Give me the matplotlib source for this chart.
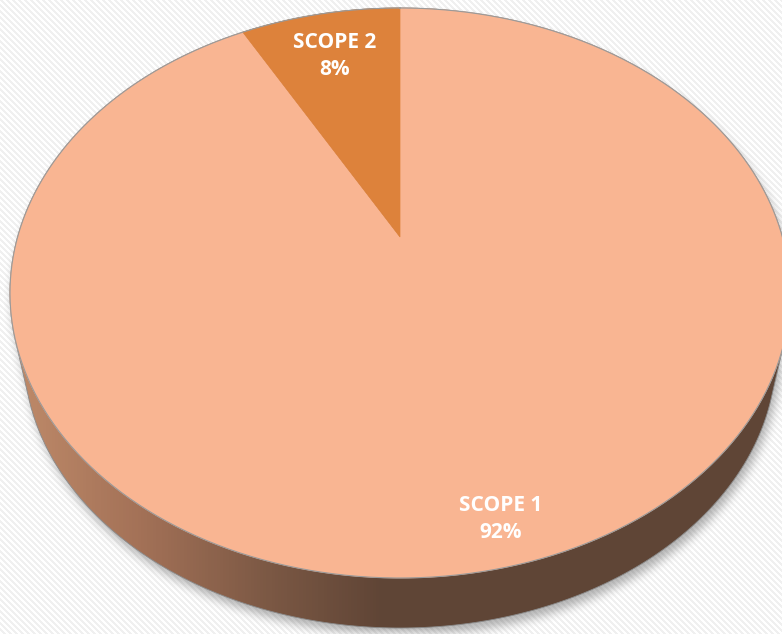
import numpy as np
import matplotlib
matplotlib.use('Agg')
import matplotlib.pyplot as plt
from matplotlib.patches import Polygon
from matplotlib.path import Path
from matplotlib.colors import LinearSegmentedColormap

# ---- data ----
labels = ['SCOPE 1', 'SCOPE 2']
values = [92, 8]
colors = ['#F9B592', '#DD823B']
label_radius = [0.88, 0.79]

W, H = 782, 634
fig = plt.figure(figsize=(7.82, 6.34), dpi=100)
ax = fig.add_axes([0, 0, 1, 1])
ax.set_xlim(0, W)
ax.set_ylim(H, 0)
ax.axis('off')

# ---- background with faint diagonal stripes ----
yy, xx = np.mgrid[0:H, 0:W]
stripe = ((xx - yy) % 6) < 3
bg = np.ones((H, W, 3))
bg[stripe] = 0.945
ax.imshow(bg, extent=(0, W, H, 0), aspect='auto', zorder=0, interpolation='bilinear')

# ---- perspective projection of the pie disc ----
CX, CY = 400, 237
A, B, K = 382.4, 274.0, 0.1965
FRONT_DEPTH = 50.0
SHRINK = 0.965

def proj(theta_deg, r=1.0):
    t = np.radians(theta_deg)
    u = r * np.sin(t)
    v = r * np.cos(t)
    s = 1 + K * v
    return CX + A * u / s, CY - B * v / s

def hull(points):
    pts = sorted(set(map(tuple, np.round(points, 3))))
    def cross(o, a, b):
        return (a[0]-o[0])*(b[1]-o[1]) - (a[1]-o[1])*(b[0]-o[0])
    lower, upper = [], []
    for p in pts:
        while len(lower) >= 2 and cross(lower[-2], lower[-1], p) <= 0:
            lower.pop()
        lower.append(p)
    for p in reversed(pts):
        while len(upper) >= 2 and cross(upper[-2], upper[-1], p) <= 0:
            upper.pop()
        upper.append(p)
    return np.array(lower[:-1] + upper[:-1])

ts = np.linspace(0, 360, 721)
tx, ty = proj(ts)
# bottom disc: top outline shrunk toward a vanishing point below the pie
front_y = CY + B / (1 - K)
VY = (front_y + FRONT_DEPTH - SHRINK * front_y) / (1 - SHRINK)
bx = CX + SHRINK * (tx - CX)
by = VY + SHRINK * (ty - VY)
side_pts = hull(np.column_stack([np.concatenate([tx, bx]), np.concatenate([ty, by])]))

# ---- soft shadow ----
shadow_path = Path(side_pts + np.array([3.0, 7.0]))
mask = shadow_path.contains_points(np.column_stack([xx.ravel() + 0.5, yy.ravel() + 0.5])).reshape(H, W).astype(float)
def box_blur(img, r):
    k = np.ones(2 * r + 1) / (2 * r + 1)
    img = np.apply_along_axis(lambda m: np.convolve(m, k, mode='same'), 0, img)
    img = np.apply_along_axis(lambda m: np.convolve(m, k, mode='same'), 1, img)
    return img
blur = box_blur(box_blur(mask, 5), 5)
sh = np.zeros((H, W, 4))
sh[..., :3] = 0.35
sh[..., 3] = blur * 0.45
ax.imshow(sh, extent=(0, W, H, 0), aspect='auto', zorder=1, interpolation='bilinear')

# ---- side with horizontal gradient ----
side_poly = Polygon(side_pts, closed=True, facecolor='none', edgecolor='#8a8a8a', lw=0.6, zorder=3)
ax.add_patch(side_poly)
stops = [(0.0, '#c08b6b'), (30 / W, '#bb8767'), (140 / W, '#a37157'),
         (270 / W, '#7b5844'), (380 / W, '#604536'), (1.0, '#5f4636')]
cmap = LinearSegmentedColormap.from_list('side', stops)
grad = np.tile(np.linspace(0, 1, W), (2, 1))
gim = ax.imshow(grad, cmap=cmap, extent=(0, W, H, 0), aspect='auto', zorder=2)
gim.set_clip_path(Polygon(side_pts, closed=True, transform=ax.transData))

# ---- top face wedges ----
total = float(sum(values))
start = 0.0
for lab, val, col, lr in zip(labels, values, colors, label_radius):
    span = 360.0 * val / total
    th = np.linspace(start, start + span, max(int(span * 2), 4))
    px, py = proj(th)
    pts = np.column_stack([np.concatenate([[CX], px]), np.concatenate([[CY], py])])
    ax.add_patch(Polygon(pts, closed=True, facecolor=col, edgecolor=col, lw=0.5, zorder=4))
    mx, my = proj(start + span / 2, r=lr)
    ax.text(mx, my - 6.5, lab, ha='center', va='baseline', color='white',
            fontsize=15, fontweight='bold', family='Open Sans', zorder=6)
    ax.text(mx, my + 20.5, f'{val:.0f}%', ha='center', va='baseline', color='white',
            fontsize=15, fontweight='bold', family='Open Sans', zorder=6)
    start += span

ax.plot(tx, ty, color='#9a9a9a', lw=0.8, zorder=5)

fig.savefig('out.png', dpi=100)
